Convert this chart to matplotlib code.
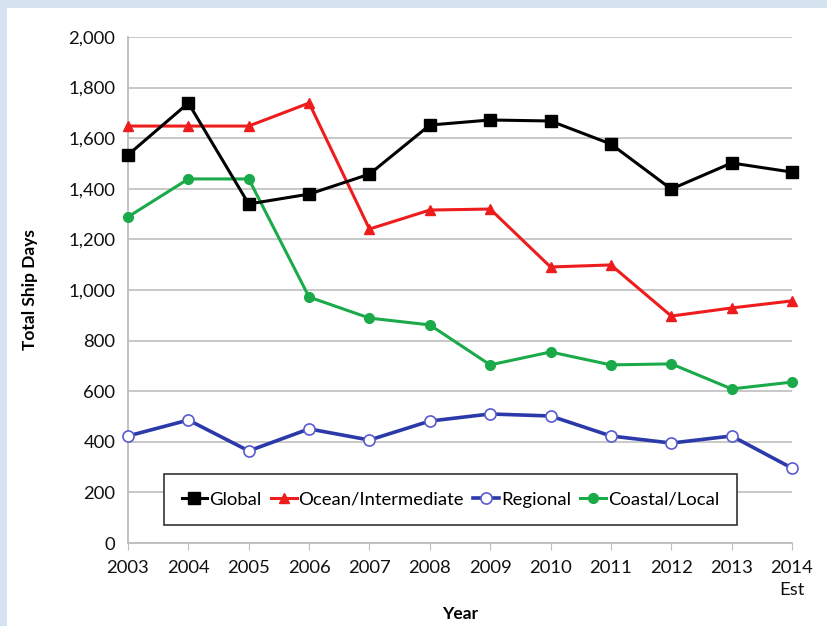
import matplotlib.pyplot as plt
import matplotlib.patches as patches

years = [2003, 2004, 2005, 2006, 2007, 2008, 2009, 2010, 2011, 2012, 2013, 2014]
year_labels = ["2003", "2004", "2005", "2006", "2007", "2008", "2009", "2010",
               "2011", "2012", "2013", "2014\nEst"]
global_days = [1534, 1739, 1340, 1379, 1458, 1652, 1672, 1668, 1577, 1399, 1502, 1466]
ocean_days = [1648, 1648, 1648, 1739, 1241, 1316, 1320, 1091, 1099, 897, 929, 957]
regional_days = [423, 486, 364, 451, 407, 482, 510, 502, 423, 395, 423, 296]
coastal_days = [1289, 1439, 1439, 972, 889, 862, 704, 755, 704, 708, 609, 636]

plt.rcParams['font.family'] = ['Lato', 'DejaVu Sans']

fig = plt.figure(figsize=(8.27, 6.26), dpi=100)
fig.patch.set_facecolor('#d5e2f0')
# white panel, blue strip only on the left and top
fig.add_artist(patches.Rectangle((7 / 827, 0), 1, 1 - 8 / 626, transform=fig.transFigure,
                                 facecolor='white', edgecolor='none', zorder=0))

ax = fig.add_axes([128 / 827, 1 - 543 / 626, (792 - 128) / 827, (543 - 37) / 626])
ax.set_facecolor('none')

ax.plot(years, global_days, color='black', lw=2.2, marker='s', ms=8, label='Global',
        zorder=4, clip_on=False)
ax.plot(years, ocean_days, color='#ee1c1c', lw=2.2, marker='^', ms=7, label='Ocean/Intermediate',
        zorder=3, clip_on=False)
ax.plot(years, regional_days, color='#2b3aa8', lw=2.6, marker='o', ms=8, mfc='white',
        mec='#5a5ad0', mew=1.2, label='Regional', zorder=3, clip_on=False)
ax.plot(years, coastal_days, color='#1aaa4a', lw=2.2, marker='o', ms=7, label='Coastal/Local',
        zorder=3, clip_on=False)

ax.set_xlim(2003, 2014)
ax.set_ylim(0, 2000)
ax.set_yticks(range(0, 2001, 200))
ax.set_yticklabels([f"{v:,}" for v in range(0, 2001, 200)])
ax.set_xticks(years)
ax.set_xticklabels(year_labels, va='top', linespacing=1.5)
ax.grid(axis='y', color='#c4c4c4', lw=1.3)
ax.set_axisbelow(True)

for s in ['top', 'right']:
    ax.spines[s].set_visible(False)
ax.spines['left'].set_color('#bcbcbc')
ax.spines['bottom'].set_color('#bcbcbc')
ax.spines['left'].set_linewidth(1.3)
ax.spines['bottom'].set_linewidth(1.3)
ax.tick_params(axis='y', length=0, labelsize=13.3, pad=9, labelcolor='#111111')
ax.tick_params(axis='x', length=5, color='#bcbcbc', labelsize=13.3, pad=7, labelcolor='#111111')

ax.set_ylabel('Total Ship Days', fontsize=12.5, fontweight='bold')
ax.yaxis.set_label_coords((38 - 128) / 664, 0.5)
ax.set_xlabel('Year', fontsize=12.5, fontweight='bold')
ax.xaxis.set_label_coords(0.5, (543 - 606) / 506)

leg = ax.legend(loc='upper left', bbox_to_anchor=((164 - 128) / 664, (543 - 474) / 506),
                ncol=4, fontsize=13.3, handlelength=1.4, handletextpad=0.1,
                columnspacing=0.5, borderaxespad=0, borderpad=0.95, fancybox=False, framealpha=1)
leg.get_frame().set_edgecolor('#333333')
leg.get_frame().set_linewidth(1.2)

fig.savefig('out.png', dpi=100)
